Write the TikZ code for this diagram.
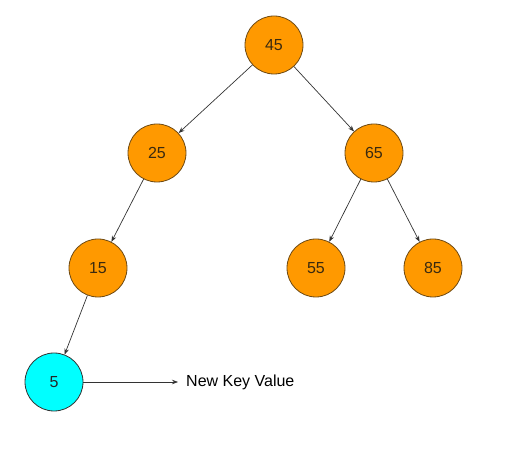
\documentclass[tikz,border=0pt]{standalone}
\usepackage{fontspec}
\setmainfont{Liberation Sans}
\usetikzlibrary{arrows.meta}
\definecolor{nodeorange}{HTML}{FF9900}
\definecolor{nodecyan}{HTML}{00FFFF}
\definecolor{nodeborder}{HTML}{6E4A14}
\definecolor{nodetext}{HTML}{3A2A10}
\begin{document}
\begin{tikzpicture}[x=1pt,y=-1pt,
  keynode/.style={circle,draw=nodeborder,line width=0.8pt,fill=nodeorange,minimum size=58pt,inner sep=0pt,font=\fontsize{16}{18}\selectfont,text=nodetext},
  newnode/.style={keynode,fill=nodecyan,draw=black!80,text=black!85},
  edge/.style={draw=black!80,line width=0.7pt,-{Stealth[length=6pt,width=4.5pt]}}]
\useasboundingbox (0,0) rectangle (507,449);
\node[keynode] (n45) at (274,45) {45};
\node[keynode] (n25) at (157,153) {25};
\node[keynode] (n65) at (374,153) {65};
\node[keynode] (n15) at (98,268) {15};
\node[keynode] (n55) at (316,268) {55};
\node[keynode] (n85) at (433,268) {85};
\node[newnode] (n5) at (54,382) {5};
\node[anchor=west,font=\fontsize{16}{18}\selectfont,inner sep=0pt] (lbl) at (186,382) {New Key Value};
\coordinate (arrEnd) at (178,382);
\draw[edge] (n45) -- (n25);
\draw[edge] (n45) -- (n65);
\draw[edge] (n25) -- (n15);
\draw[edge] (n65) -- (n55);
\draw[edge] (n65) -- (n85);
\draw[edge] (n15) -- (n5);
\draw[edge] (n5) -- (arrEnd);
\end{tikzpicture}
\end{document}
